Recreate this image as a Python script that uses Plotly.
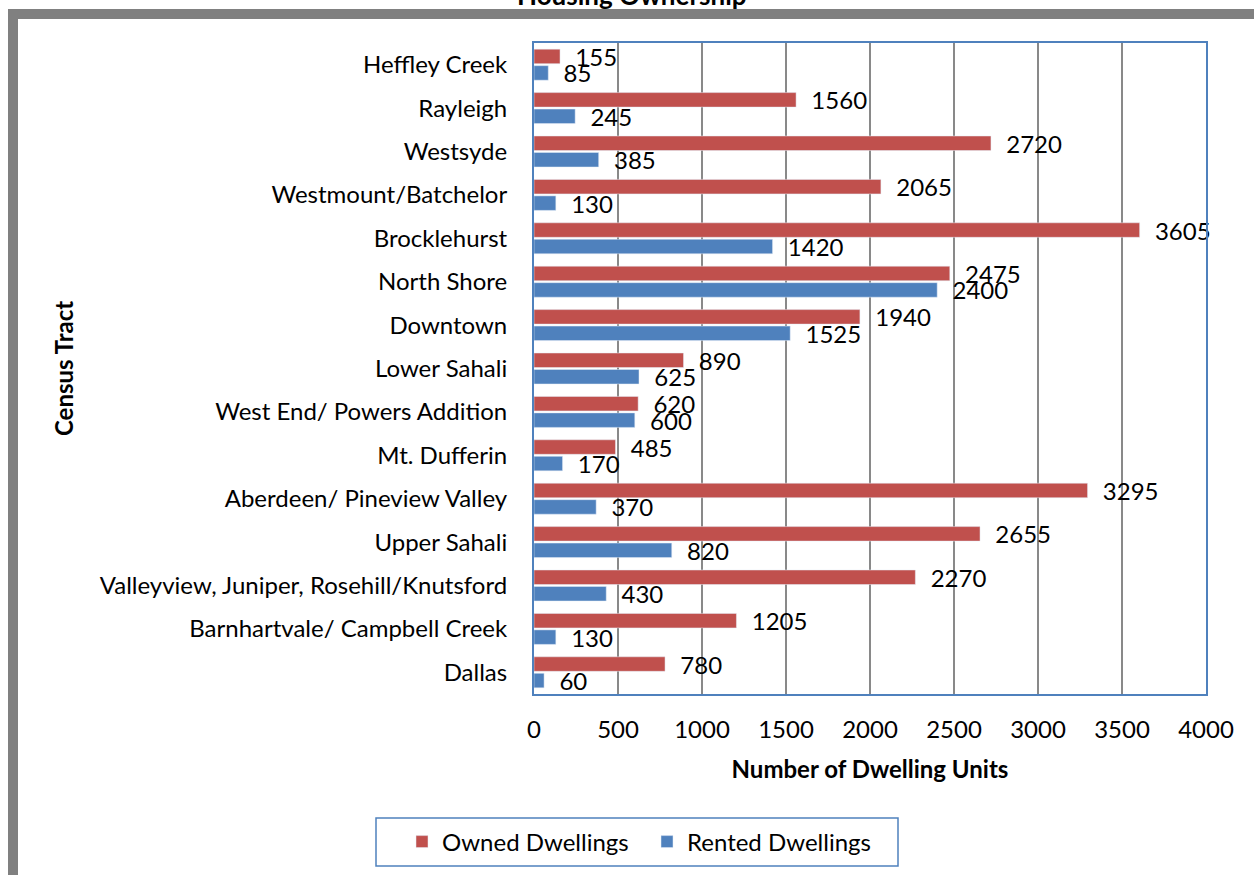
import plotly.graph_objects as go

# data, listed top to bottom as in the chart
tracts = [
    "Heffley Creek", "Rayleigh", "Westsyde", "Westmount/Batchelor", "Brocklehurst",
    "North Shore", "Downtown", "Lower Sahali", "West End/ Powers Addition", "Mt. Dufferin",
    "Aberdeen/ Pineview Valley", "Upper Sahali", "Valleyview, Juniper, Rosehill/Knutsford",
    "Barnhartvale/ Campbell Creek", "Dallas",
]
owned = [155, 1560, 2720, 2065, 3605, 2475, 1940, 890, 620, 485, 3295, 2655, 2270, 1205, 780]
rented = [85, 245, 385, 130, 1420, 2400, 1525, 625, 600, 170, 370, 820, 430, 130, 60]
x_ticks = [0, 500, 1000, 1500, 2000, 2500, 3000, 3500, 4000]

W, H = 1254, 875
L, R, T, B = 534, 1206, 43, 694   # plot area in pixels

def px(x):
    return (x - L) / (R - L)

def py(y):
    return (B - y) / (B - T)

FONT = "Lato"
FS = 24
RED = "#C0504D"
BLUE = "#4F81BD"

fig = go.Figure()
fig.add_trace(go.Bar(
    y=tracts, x=owned, orientation="h", name="Owned Dwellings",
    marker=dict(color=RED),
    texttemplate="\u00a0\u00a0%{x}", textposition="outside",
    constraintext="none", cliponaxis=False,
    textfont=dict(size=FS, color="black", family=FONT),
))
fig.add_trace(go.Bar(
    y=tracts, x=rented, orientation="h", name="Rented Dwellings",
    marker=dict(color=BLUE),
    texttemplate="\u00a0\u00a0%{x}", textposition="outside",
    constraintext="none", cliponaxis=False,
    textfont=dict(size=FS, color="black", family=FONT),
))

fig.update_layout(
    width=W, height=H,
    margin=dict(l=L, r=W - R, t=T, b=H - B, autoexpand=False),
    paper_bgcolor="white", plot_bgcolor="white",
    barmode="group", bargap=0.24, bargroupgap=0.12,
    font=dict(family=FONT, size=FS, color="black"),
    showlegend=True,
    legend=dict(
        orientation="h", x=px(402), y=py(842), xanchor="left", yanchor="middle",
        font=dict(size=FS, family=FONT), bgcolor="rgba(0,0,0,0)",
        entrywidth=200, entrywidthmode="pixels", itemwidth=30,
    ),
    xaxis=dict(
        range=[0, 4000], tickvals=x_ticks, showgrid=True, gridcolor="#898989", gridwidth=1.5,
        zeroline=False, showline=True, linecolor=BLUE, linewidth=2, mirror=True,
        ticks="", ticklabelstandoff=13, tickfont=dict(size=FS),
        title=dict(text="<b>Number of Dwelling Units</b>", font=dict(size=FS), standoff=19),
    ),
    yaxis=dict(
        autorange="reversed", showgrid=False, showline=True, linecolor=BLUE, linewidth=2,
        mirror=True, ticks="", ticklabelstandoff=20, tickfont=dict(size=FS),
    ),
    shapes=[
        # outer grey chart frame
        dict(type="rect", xref="paper", yref="paper",
             x0=px(13), x1=px(1400), y0=py(14), y1=py(1000),
             line=dict(color="#808080", width=10), layer="above"),
        # legend box
        dict(type="rect", xref="paper", yref="paper",
             x0=px(376), x1=px(898), y0=py(818), y1=py(866),
             line=dict(color=BLUE, width=1.5)),
    ],
    annotations=[
        dict(text="<b>Housing Ownership</b>", xref="paper", yref="paper",
             x=px(632), y=py(-5), xanchor="center", yanchor="middle",
             showarrow=False, font=dict(size=26, family=FONT)),
        dict(text="<b>Census Tract</b>", xref="paper", yref="paper",
             x=px(63), y=py(369), xanchor="center", yanchor="middle", textangle=-90,
             showarrow=False, font=dict(size=FS, family=FONT)),
    ],
)

# drop the page's default body margin so the figure starts at the window corner
fig.write_html("out.html", config={"displayModeBar": False},
               post_script="document.body.style.margin='0';")
